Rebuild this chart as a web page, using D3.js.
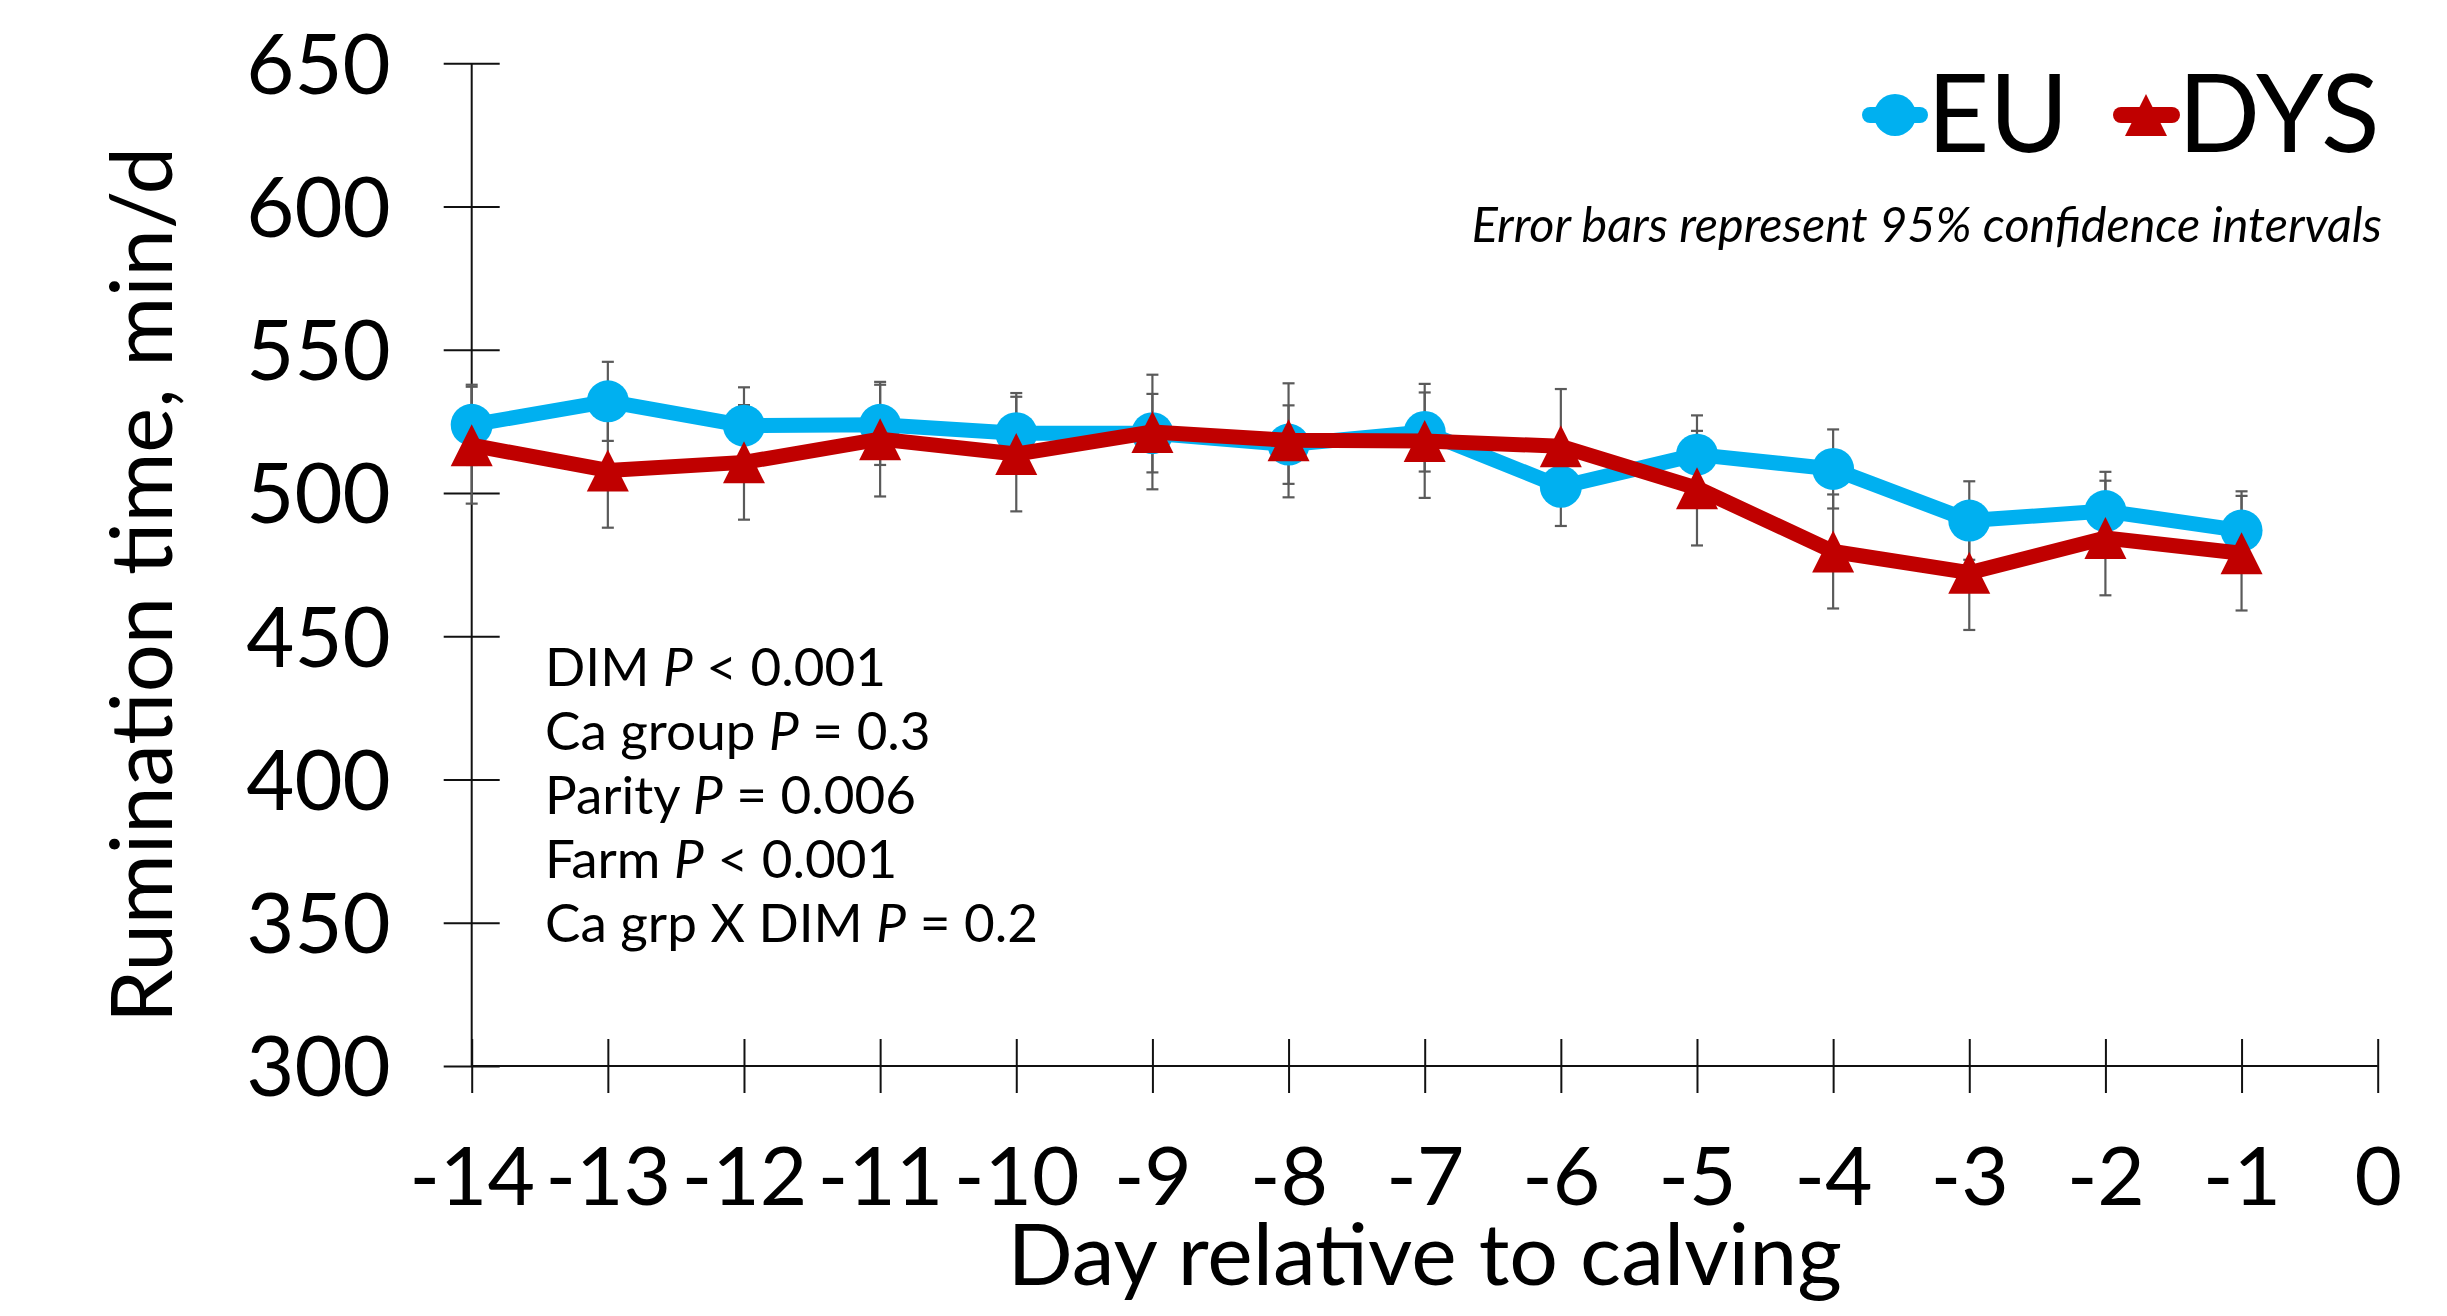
<!DOCTYPE html>
<html>
<head>
<meta charset="utf-8">
<script src="https://cdn.jsdelivr.net/npm/d3@7"></script>
<style>
  html, body { margin: 0; padding: 0; background: #fff; }
  svg { display: block; font-family: Lato, "Open Sans", sans-serif; }
</style>
</head>
<body>
<svg id="chart"></svg>
<script>
const width = 2447;
const height = 1316;

// values (min/d), with 95% CI half-widths
const days = [-14, -13, -12, -11, -10, -9, -8, -7, -6, -5, -4, -3, -2, -1];
const euMean = [523.8, 532.0, 523.5, 523.8, 520.9, 520.9, 516.9, 521.3, 502.2, 513.4, 508.4, 490.4, 493.7, 486.9];
const euCI = [14.0, 13.8, 13.4, 14.0, 14.0, 13.7, 13.7, 13.8, 13.7, 13.7, 13.8, 13.7, 13.7, 13.7];
const dysMean = [516.7, 507.9, 510.7, 518.8, 513.6, 521.3, 518.4, 518.2, 516.3, 501.7, 479.6, 472.2, 484.3, 479.0];
const dysCI = [20.4, 20.0, 20.0, 20.0, 20.0, 20.0, 19.9, 19.9, 20.0, 20.0, 19.9, 20.0, 20.0, 20.0];

const xTicks = [-14, -13, -12, -11, -10, -9, -8, -7, -6, -5, -4, -3, -2, -1, 0];
const yTicks = [300, 350, 400, 450, 500, 550, 600, 650];

const statLines = [
  ["DIM ", "P", " < 0.001"],
  ["Ca group ", "P", " = 0.3"],
  ["Parity ", "P", " = 0.006"],
  ["Farm ", "P", " < 0.001"],
  ["Ca grp X DIM ", "P", " = 0.2"]
];

const euColor = "#00b0f0";
const dysColor = "#c00000";
const barColor = "#5a5a5a";

const svg = d3.select("#chart").attr("width", width).attr("height", height);

const x = d3.scaleLinear().domain([-14, 0]).range([471.7, 2377.7]);
const y = d3.scaleLinear().domain([300, 650]).range([1066, 63.3]);

// y axis (ticks cross the axis line)
svg
  .append("g")
  .attr("class", "axis-y")
  .attr("transform", `translate(${x(-14)},0)`)
  .call(d3.axisLeft(y).tickValues(yTicks).tickSizeOuter(0).tickPadding(0))
  .call((g) => g.select(".domain").attr("d", `M0,${y(650)}V${y(300)}`).attr("stroke", "#111").attr("stroke-width", 2))
  .call((g) => g.selectAll(".tick line").attr("x1", -28).attr("x2", 28).attr("stroke", "#111").attr("stroke-width", 2))
  .call((g) =>
    g
      .selectAll(".tick text")
      .attr("x", -81)
      .attr("dy", "0.36em")
      .attr("fill", "#000")
      .style("font-family", "Lato")
      .style("font-size", "83px")
  );

// x axis
svg
  .append("g")
  .attr("class", "axis-x")
  .attr("transform", `translate(0,${y(300)})`)
  .call(d3.axisBottom(x).tickValues(xTicks).tickFormat(d3.format("d")).tickSizeOuter(0))
  .call((g) => g.select(".domain").attr("d", `M${x(-14)},0H${x(0)}`).attr("stroke", "#111").attr("stroke-width", 2))
  .call((g) => g.selectAll(".tick line").attr("y1", -27).attr("y2", 27).attr("stroke", "#111").attr("stroke-width", 2))
  .call((g) =>
    g
      .selectAll(".tick text")
      .attr("y", 139)
      .attr("dy", 0)
      .attr("fill", "#000")
      .style("font-family", "Lato")
      .style("font-size", "82px")
      .text((d) => (d < 0 ? "-" + Math.abs(d) : d))
  );

svg
  .append("text")
  .attr("x", (x(-14) + x(0)) / 2)
  .attr("y", 1285)
  .attr("text-anchor", "middle")
  .style("font-size", "86px")
  .text("Day relative to calving");

svg
  .append("text")
  .attr("transform", "rotate(-90)")
  .attr("x", -585)
  .attr("y", 172)
  .attr("text-anchor", "middle")
  .style("font-size", "85px")
  .text("Rumination time, min/d");

// error bars
const series = [
  { key: "EU", mean: euMean, ci: euCI, color: euColor, marker: "circle" },
  { key: "DYS", mean: dysMean, ci: dysCI, color: dysColor, marker: "triangle" }
];

const bars = svg.append("g").attr("class", "error-bars");
series.forEach((s) => {
  const rows = days.map((d, i) => ({ day: d, lo: s.mean[i] - s.ci[i], hi: s.mean[i] + s.ci[i] }));
  const g = bars.selectAll(null).data(rows).enter().append("g").attr("stroke", barColor).attr("stroke-width", 2.2);
  g.append("line").attr("x1", (d) => x(d.day)).attr("x2", (d) => x(d.day)).attr("y1", (d) => y(d.lo)).attr("y2", (d) => y(d.hi));
  g.append("line").attr("x1", (d) => x(d.day) - 6).attr("x2", (d) => x(d.day) + 6).attr("y1", (d) => y(d.lo)).attr("y2", (d) => y(d.lo));
  g.append("line").attr("x1", (d) => x(d.day) - 6).attr("x2", (d) => x(d.day) + 6).attr("y1", (d) => y(d.hi)).attr("y2", (d) => y(d.hi));
});

const tri = "M0,-21L21,21L-21,21Z";
const line = d3.line().x((d) => x(d[0])).y((d) => y(d[1]));

series.forEach((s) => {
  const pts = days.map((d, i) => [d, s.mean[i]]);
  const g = svg.append("g").attr("class", "series-" + s.key);
  g.append("path")
    .attr("d", line(pts))
    .attr("fill", "none")
    .attr("stroke", s.color)
    .attr("stroke-width", 15)
    .attr("stroke-linejoin", "round");
  if (s.marker === "circle") {
    g.selectAll("circle").data(pts).enter().append("circle")
      .attr("cx", (d) => x(d[0])).attr("cy", (d) => y(d[1])).attr("r", 21).attr("fill", s.color);
  } else {
    g.selectAll("path.m").data(pts).enter().append("path").attr("class", "m")
      .attr("d", tri).attr("transform", (d) => `translate(${x(d[0])},${y(d[1])})`).attr("fill", s.color);
  }
});

// legend
const legend = svg.append("g").attr("class", "legend");
legend.append("line").attr("x1", 1870).attr("x2", 1920).attr("y1", 115).attr("y2", 115)
  .attr("stroke", euColor).attr("stroke-width", 16).attr("stroke-linecap", "round");
legend.append("circle").attr("cx", 1895).attr("cy", 115).attr("r", 21).attr("fill", euColor);
legend.append("text").attr("x", 1927).attr("y", 152).style("font-size", "108px").text("EU");
legend.append("line").attr("x1", 2121).attr("x2", 2172).attr("y1", 115).attr("y2", 115)
  .attr("stroke", dysColor).attr("stroke-width", 16).attr("stroke-linecap", "round");
legend.append("path").attr("d", tri).attr("transform", "translate(2146,115)").attr("fill", dysColor);
legend.append("text").attr("x", 2178).attr("y", 152).style("font-size", "108px").text("DYS");

svg
  .append("text")
  .attr("x", 2382)
  .attr("y", 242)
  .attr("text-anchor", "end")
  .style("font-size", "48.5px")
  .style("font-style", "italic")
  .text("Error bars represent 95% confidence intervals");

// model p-values
const stats = svg.append("g").attr("class", "stats");
statLines.forEach((parts, i) => {
  const t = stats.append("text").attr("x", 545).attr("y", 686 + i * 64).style("font-size", "53px");
  parts.forEach((p, j) => {
    t.append("tspan").style("font-style", j === 1 ? "italic" : "normal").text(p);
  });
});
</script>
</body>
</html>
